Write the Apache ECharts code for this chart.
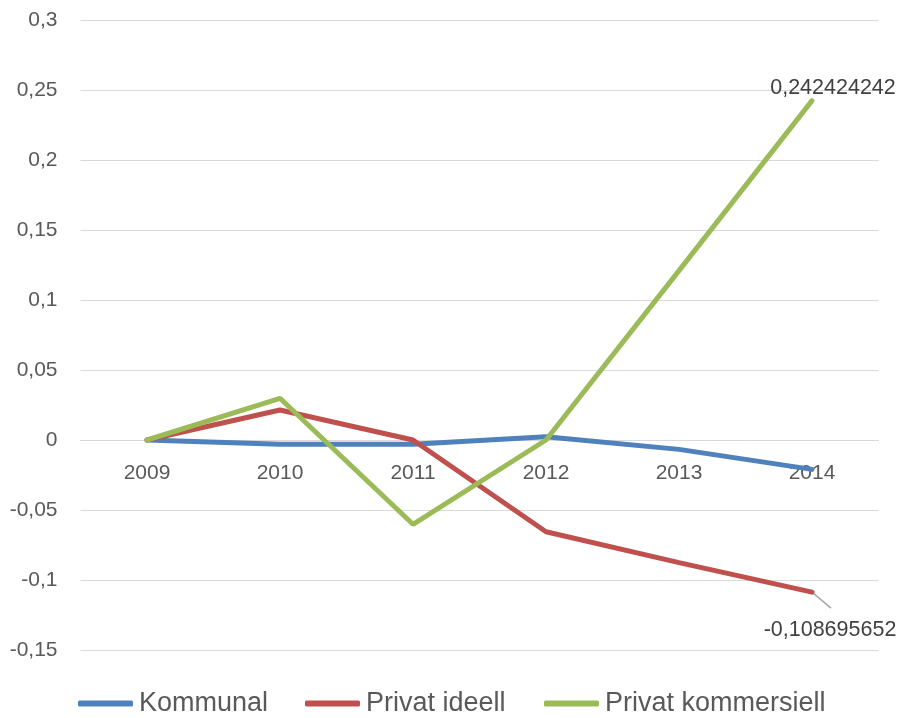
<!DOCTYPE html>
<html>
<head>
<meta charset="utf-8">
<script src="https://cdn.jsdelivr.net/npm/echarts@6/dist/echarts.min.js"></script>
<style>
  html, body { margin: 0; padding: 0; background: #fff; }
  #main { width: 900px; height: 718px; }
</style>
</head>
<body>
<div id="main"></div>
<script>
// data
var years = ['2009', '2010', '2011', '2012', '2013', '2014'];
var kommunal = [0, -0.003, -0.003, 0.0024, -0.0067, -0.021];
var privatIdeell = [0, 0.0214, 0, -0.0655, -0.0876, -0.108695652];
var privatKommersiell = [0, 0.0298, -0.0602, 0, 0.121, 0.242424242];
var yTicks = { min: -0.15, max: 0.3, step: 0.05 };

var font = '"Liberation Sans", Arial, sans-serif';

function fmt(v) {
  return String(v).replace('.', ',');
}

// show only the last value as a label
function withLastLabel(arr, pos) {
  return arr.map(function (v, i) {
    if (i !== arr.length - 1) return v;
    return { value: v, label: { show: true, position: pos } };
  });
}

var legendText = { fontSize: 27, color: '#595959', fontFamily: font, padding: [0, 0, 0, 1] };
function legendAt(name, left) {
  return {
    bottom: 1,
    left: left,
    padding: 0,
    icon: 'roundRect',
    itemWidth: 55,
    itemHeight: 6,
    textStyle: legendText,
    data: [name]
  };
}

// zero line sits 210px above the grid bottom (0.15 / 0.05 * 70)
var myChart = echarts.init(document.getElementById('main'));
myChart.setOption({
  animation: false,
  color: ['#4F81BD', '#C0504D', '#9BBB59'],
  textStyle: { fontFamily: font },
  grid: { left: 80.5, right: 21.5, top: 20, bottom: 68 },
  legend: [
    legendAt('Kommunal', 78),
    legendAt('Privat ideell', 305),
    legendAt('Privat kommersiell', 544)
  ],
  xAxis: {
    type: 'category',
    data: years,
    offset: -210,
    axisLine: { onZero: false, lineStyle: { color: '#d9d9d9', width: 1 } },
    axisTick: { show: false },
    axisLabel: { fontSize: 21, color: '#595959', margin: 23 },
    splitLine: { show: false }
  },
  yAxis: {
    type: 'value',
    min: yTicks.min,
    max: yTicks.max,
    interval: yTicks.step,
    axisLine: { show: false },
    axisTick: { show: false },
    axisLabel: {
      fontSize: 21,
      color: '#595959',
      margin: 23,
      formatter: function (v) { return fmt(+v.toFixed(2)); }
    },
    splitLine: { lineStyle: { color: '#d9d9d9', width: 1 } }
  },
  series: [
    {
      name: 'Kommunal',
      type: 'line',
      data: kommunal,
      showSymbol: false,
      symbol: 'none',
      lineStyle: { width: 5, cap: 'round' }
    },
    {
      name: 'Privat ideell',
      type: 'line',
      data: withLastLabel(privatIdeell, 'bottom'),
      symbol: 'circle',
      symbolSize: 0,
      lineStyle: { width: 5, cap: 'round' },
      label: {
        fontSize: 21.5,
        color: '#404040',
        formatter: function (p) { return fmt(p.value); }
      },
      labelLayout: function (p) {
        return p.dataIndex === years.length - 1 ? { dx: 18, dy: 22 } : {};
      }
    },
    {
      name: 'Privat kommersiell',
      type: 'line',
      data: withLastLabel(privatKommersiell, 'top'),
      symbol: 'circle',
      symbolSize: 0,
      lineStyle: { width: 5, cap: 'round' },
      label: {
        fontSize: 21.5,
        color: '#404040',
        formatter: function (p) { return fmt(p.value); }
      },
      labelLayout: function (p) {
        return p.dataIndex === years.length - 1 ? { dx: 21, dy: 3 } : {};
      }
    }
  ]
});

// short grey leader from the last "Privat ideell" point toward its label
var last = years.length - 1;
var pt = myChart.convertToPixel({ seriesIndex: 1 }, [last, privatIdeell[last]]);
myChart.setOption({
  graphic: [{
    type: 'line',
    shape: { x1: pt[0], y1: pt[1], x2: pt[0] + 19, y2: pt[1] + 16 },
    style: { stroke: '#a6a6a6', lineWidth: 1.5 },
    z: 1
  }]
});
</script>
</body>
</html>
